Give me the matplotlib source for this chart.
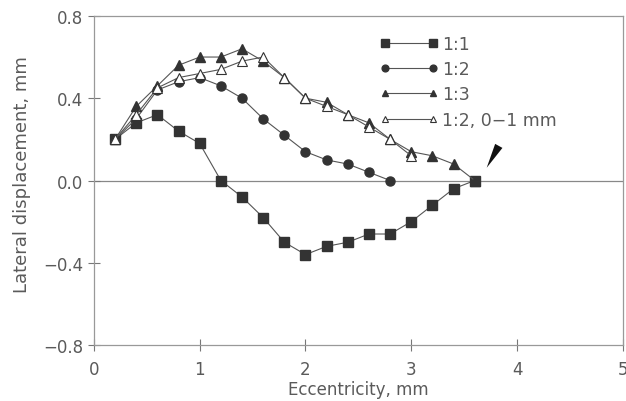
import matplotlib.pyplot as plt

plt.rcParams['font.family'] = ['DejaVu Sans']

# eccentricity (mm) and lateral displacement (mm) per ratio
x_11 = [0.2, 0.4, 0.6, 0.8, 1.0, 1.2, 1.4, 1.6, 1.8, 2.0, 2.2, 2.4, 2.6, 2.8, 3.0, 3.2, 3.4, 3.6]
y_11 = [0.20, 0.28, 0.32, 0.24, 0.18, 0.00, -0.08, -0.18, -0.30, -0.36, -0.32, -0.30, -0.26, -0.26, -0.20, -0.12, -0.04, 0.00]

x_12 = [0.2, 0.4, 0.6, 0.8, 1.0, 1.2, 1.4, 1.6, 1.8, 2.0, 2.2, 2.4, 2.6, 2.8]
y_12 = [0.20, 0.30, 0.44, 0.48, 0.50, 0.46, 0.40, 0.30, 0.22, 0.14, 0.10, 0.08, 0.04, 0.00]

x_13 = [0.2, 0.4, 0.6, 0.8, 1.0, 1.2, 1.4, 1.6, 1.8, 2.0, 2.2, 2.4, 2.6, 2.8, 3.0, 3.2, 3.4, 3.6]
y_13 = [0.20, 0.36, 0.46, 0.56, 0.60, 0.60, 0.64, 0.58, 0.50, 0.40, 0.38, 0.32, 0.28, 0.20, 0.14, 0.12, 0.08, 0.00]

x_12b = [0.2, 0.4, 0.6, 0.8, 1.0, 1.2, 1.4, 1.6, 1.8, 2.0, 2.2, 2.4, 2.6, 2.8, 3.0]
y_12b = [0.20, 0.32, 0.45, 0.50, 0.52, 0.54, 0.58, 0.60, 0.50, 0.40, 0.36, 0.32, 0.26, 0.20, 0.12]

x_ticks = [0, 1, 2, 3, 4, 5]
y_ticks = [-0.8, -0.4, 0.0, 0.4, 0.8]
y_ticklabels = ['\u22120.8', '\u22120.4', '0.0', '0.4', '0.8']

# pointer wedge near the common end point
arrow_tip = (3.70, 0.05)
arrow_tail = (3.84, 0.18)

ink = '#333333'
txt = '#5a5a5a'
line_kw = dict(color='#555555', lw=0.8)

fig = plt.figure(figsize=(6.26, 4.02), dpi=100)
ax = fig.add_axes([0.150, 0.139, 0.845, 0.819])

ax.axhline(0, color='#888888', lw=0.9, zorder=1)

ax.plot(x_11, y_11, marker='s', ms=7, mfc=ink, mec=ink, label='1:1', **line_kw)
ax.plot(x_12, y_12, marker='o', ms=6.5, mfc=ink, mec=ink, label='1:2', **line_kw)
ax.plot(x_13, y_13, marker='^', ms=6.5, mfc=ink, mec=ink, label='1:3', **line_kw)
ax.plot(x_12b, y_12b, marker='^', ms=6.5, mfc='white', mec=ink, mew=0.8,
        label='1:2, 0\u22121 mm', **line_kw)

ax.annotate('', xy=arrow_tip, xytext=arrow_tail,
            arrowprops=dict(arrowstyle='wedge,tail_width=0.6', color='#111111', lw=0))

ax.set_xlim(0, 5)
ax.set_ylim(-0.8, 0.8)
ax.set_xticks(x_ticks)
ax.set_yticks(y_ticks)
ax.set_yticklabels(y_ticklabels)
ax.tick_params(axis='both', colors='#777777', labelcolor=txt, labelsize=12,
               direction='inout', length=8, width=0.8)
ax.tick_params(axis='x', pad=7)
for sp in ax.spines.values():
    sp.set_color('#999999')
    sp.set_linewidth(0.9)

ax.set_xlabel('Eccentricity, mm', color=txt, fontsize=12)
ax.xaxis.set_label_coords(0.5, -0.105)
ax.set_ylabel('Lateral displacement, mm', color=txt, fontsize=13)
ax.yaxis.set_label_coords(-0.118, 0.52)

leg = ax.legend(loc='upper left', bbox_to_anchor=(0.51, 0.99), frameon=False,
                numpoints=2, markerscale=0.75, handlelength=3.4,
                fontsize=12.5, labelspacing=0.42, handletextpad=0.2)
for t in leg.get_texts():
    t.set_color(txt)

fig.savefig('out.png', dpi=100)
